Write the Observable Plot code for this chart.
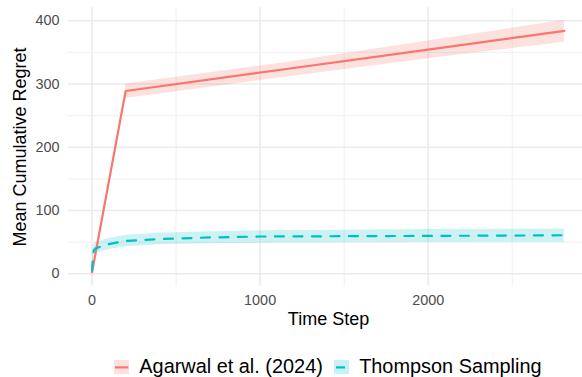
<!DOCTYPE html>
<html><head><meta charset="utf-8">
<script src="https://cdn.jsdelivr.net/npm/d3@7"></script>
<script src="https://cdn.jsdelivr.net/npm/@observablehq/plot@0.6"></script>
<style>
body{margin:0;background:#fff;font-family:"Liberation Sans",Arial,Helvetica,sans-serif;overflow:hidden}
#chart{position:relative;width:582px;height:377px;background:#fff}
#legend{position:absolute;left:114px;top:357px;display:flex;align-items:center;font-size:19.9px;color:#000;white-space:nowrap;line-height:1}
#legend .item{display:flex;align-items:center}
#legend svg{display:block}
#legend .lab{margin-left:10px;margin-right:11px}
</style></head><body><div id="chart"></div>
<script>
const seriesNames = ["Agarwal et al. (2024)", "Thompson Sampling"];
const seriesColors = ["#F8766D", "#00BFC4"];

const agarwalStep = [0, 200, 1124, 2000, 2810];
const agarwalMean = [2.5, 289, 322.6, 354.5, 384];
const agarwalBandStep = [200, 1124, 2000, 2810];
const agarwalLower = [277, 310, 340, 366];
const agarwalUpper = [300, 333, 368, 401];

const thompsonStep  = [0, 5, 10, 20, 40, 100, 200, 400, 700, 1000, 1500, 2000, 2500, 2810];
const thompsonMean  = [5, 25, 37, 40, 42, 47, 52, 55, 57.5, 59, 59.5, 60, 60.5, 61];
const thompsonLower = [3, 15, 28, 31, 34, 38, 43, 46, 47.5, 48.5, 49, 49.5, 50, 50];
const thompsonUpper = [7, 35, 45, 49, 51, 56, 61, 64, 66.5, 68, 69, 70, 70.5, 71];

const xMajorTicks = [0, 1000, 2000];
const xMinorTicks = [500, 1500, 2500];
const yMajorTicks = [0, 100, 200, 300, 400];
const yMinorTicks = [50, 150, 250, 350];

const xTitle = "Time Step";
const yTitle = "Mean Cumulative Regret";

const agarwalLine = agarwalStep.map((t, i) => ({t, v: agarwalMean[i]}));
const agarwalBand = agarwalBandStep.map((t, i) => ({t, lo: agarwalLower[i], hi: agarwalUpper[i]}));
const thompsonLine = thompsonStep.map((t, i) => ({t, v: thompsonMean[i]}));
const thompsonBand = thompsonStep.map((t, i) => ({t, lo: thompsonLower[i], hi: thompsonUpper[i]}));

const grid = "#EBEBEB";
const plot = Plot.plot({
  width: 582, height: 340,
  marginTop: 7, marginBottom: 54, marginLeft: 68, marginRight: 0,
  x: {domain: [-140, 2918]},
  y: {domain: [-20, 421]},
  style: {fontFamily: '"Liberation Sans",Arial,Helvetica,sans-serif', background: "#fff", overflow: "visible"},
  marks: [
    Plot.ruleY(yMinorTicks, {stroke: grid, strokeWidth: 0.8}),
    Plot.ruleX(xMinorTicks, {stroke: grid, strokeWidth: 0.8}),
    Plot.ruleY(yMajorTicks, {stroke: grid, strokeWidth: 1.5}),
    Plot.ruleX(xMajorTicks, {stroke: grid, strokeWidth: 1.5}),
    Plot.areaY(agarwalBand, {x: "t", y1: "lo", y2: "hi", fill: seriesColors[0], fillOpacity: 0.22}),
    Plot.areaY(thompsonBand, {x: "t", y1: "lo", y2: "hi", fill: seriesColors[1], fillOpacity: 0.2}),
    Plot.line(agarwalLine, {x: "t", y: "v", stroke: seriesColors[0], strokeWidth: 2.2}),
    Plot.line(thompsonLine, {x: "t", y: "v", stroke: seriesColors[1], strokeWidth: 2.2, strokeDasharray: "9,9.5"}),
    Plot.axisX({ticks: xMajorTicks, tickFormat: d => String(d), tickSize: 0, tickPadding: 8, fontSize: 14.4, color: "#4D4D4D", label: null}),
    Plot.axisY({ticks: yMajorTicks, tickFormat: d => String(d), tickSize: 0, tickPadding: 9, fontSize: 14.4, color: "#4D4D4D", label: null}),
    Plot.text([xTitle], {text: d => d, frameAnchor: "bottom", dx: 3, dy: 25.7, textAnchor: "middle", lineAnchor: "top", fontSize: 18, fill: "#000"}),
    Plot.text([yTitle], {text: d => d, frameAnchor: "left", dx: -48, rotate: -90, textAnchor: "middle", lineAnchor: "middle", fontSize: 18, fill: "#000"})
  ]
});
const chart = document.getElementById("chart");
chart.appendChild(plot);

const legend = document.createElement("div");
legend.id = "legend";
seriesNames.forEach((name, i) => {
  const item = document.createElement("div");
  item.className = "item";
  const c = seriesColors[i];
  const seg = i === 0 ? '<line x1="1" x2="14.3" y1="7.4" y2="7.4" stroke="' + c + '" stroke-width="2.2"/>'
                      : '<line x1="2" x2="11" y1="7.4" y2="7.4" stroke="' + c + '" stroke-width="2.2"/>';
  item.innerHTML = '<svg width="15.3" height="14.8"><rect width="15.3" height="14.8" fill="' + c + '" fill-opacity="0.22"/>' + seg + '</svg><span class="lab">' + name + '</span>';
  legend.appendChild(item);
});
chart.appendChild(legend);
</script></body></html>
